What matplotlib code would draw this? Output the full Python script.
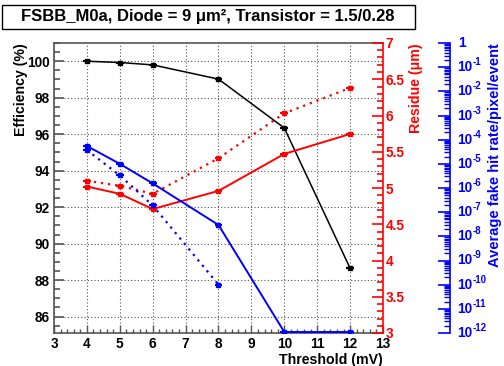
import numpy as np
import matplotlib
matplotlib.use("Agg")
import matplotlib.pyplot as plt
from matplotlib.ticker import MultipleLocator, LogLocator, FixedLocator, NullFormatter
from matplotlib.patches import Rectangle

plt.rcParams['font.family'] = ['Liberation Sans', 'DejaVu Sans']
plt.rcParams['font.weight'] = 'bold'

# data
threshold = [4, 5, 6, 8, 10, 12]
efficiency = [100.0, 99.93, 99.8, 99.02, 96.34, 88.65]
residue_solid = [5.02, 4.92, 4.71, 4.96, 5.47, 5.745]
residue_dotted = [5.10, 5.03, 4.92, 5.41, 6.03, 6.38]
fake_solid = [10**-4.26, 1e-5, 10**-5.81, 10**-7.53, 1.1e-12, 1.1e-12]
thr_fake_dotted = [4, 5, 6, 8]
fake_dotted = [10**-4.43, 10**-5.48, 10**-6.72, 1e-10]
fake_exps = list(range(-12, 1))

title = "FSBB_M0a, Diode = 9 \u03bcm\u00b2, Transistor = 1.5/0.28"

fig = plt.figure(figsize=(5.04, 3.66), dpi=100)
pos = [54/504, 1-333/366, (383-54)/504, (333-43)/366]
ax = fig.add_axes(pos)
ax2 = ax.twinx()
ax3 = ax.twinx()

fs = 9.8
fl = 10.2
xe = 0.12
# efficiency
ax.errorbar(threshold, efficiency, xerr=xe, color='black', lw=1.1, marker='s', ms=3.5,
            elinewidth=1.5, capsize=0, zorder=5)
ax.set_xlim(3, 13)
ax.set_ylim(85.1, 101)
ax.xaxis.set_major_locator(MultipleLocator(1))
ax.xaxis.set_minor_locator(MultipleLocator(0.2))
ax.yaxis.set_major_locator(MultipleLocator(2))
ax.yaxis.set_minor_locator(MultipleLocator(0.5))
ax.tick_params(axis='both', which='both', direction='in', labelsize=fs, color='#555555')
ax.tick_params(axis='y', which='major', length=7, width=1.2, pad=3)
ax.tick_params(axis='y', which='minor', length=4, width=1.2)
ax.tick_params(axis='x', which='major', length=6, width=1.0, pad=3)
ax.tick_params(axis='x', which='minor', length=3, width=1.0)
ax.grid(True, which='major', linestyle=(0, (1, 2)), color='#555555', lw=0.8)
for s in ['left', 'bottom', 'top']:
    ax.spines[s].set_color('#555555')
    ax.spines[s].set_linewidth(1.2)
ax.spines['right'].set_visible(False)
ax.set_xlabel("Threshold (mV)", fontsize=fl, fontweight='bold')
ax.xaxis.set_label_coords(1.0, -0.092)
ax.xaxis.label.set_horizontalalignment('right')
ax.xaxis.label.set_verticalalignment('center')
ax.set_ylabel("Efficiency (%)", fontsize=fl, fontweight='bold')
ax.yaxis.set_label_coords(-0.1, 1.0)
ax.yaxis.label.set_verticalalignment('center')
ax.yaxis.label.set_horizontalalignment('right')

# residue
ax2.errorbar(threshold, residue_solid, xerr=xe, color='red', lw=1.4, marker='s', ms=3.5,
             elinewidth=1.5, capsize=0, zorder=5)
ax2.errorbar(threshold, residue_dotted, xerr=xe, color='red', lw=1.6, ls=(0, (1, 2.2)),
             marker='s', ms=3.5, elinewidth=1.5, capsize=0, zorder=5)
ax2.set_ylim(3, 7)
res_ticks = np.arange(3, 7.01, 0.5)
ax2.set_yticks(res_ticks)
ax2.set_yticklabels([f"{v:g}" for v in res_ticks])
ax2.yaxis.set_minor_locator(MultipleLocator(0.1))
ax2.tick_params(axis='y', which='both', direction='in', colors='red', labelsize=fs, pad=2)
ax2.tick_params(axis='y', which='major', length=8, width=1.2)
ax2.tick_params(axis='y', which='minor', length=4, width=1.2)
ax2.spines['right'].set_color('red')
ax2.spines['right'].set_linewidth(1.2)
for s in ['left', 'top', 'bottom']:
    ax2.spines[s].set_visible(False)
ax2.set_ylabel("Residue (\u03bcm)", color='red', fontsize=fl, fontweight='bold')
ax2.yaxis.set_label_coords(1.1, 1.0)
ax2.yaxis.label.set_verticalalignment('center')
ax2.yaxis.label.set_horizontalalignment('right')

# fake hit rate
xspine = (450-54)/(383-54)
ax3.spines['right'].set_position(('axes', xspine))
ax3.plot(threshold, fake_solid, color='blue', lw=1.4, marker='s', ms=3.5, zorder=5)
ax3.errorbar(threshold, fake_solid, xerr=xe, color='blue', ls='none', elinewidth=1.5, capsize=0)
ax3.plot(thr_fake_dotted, fake_dotted, color='blue', lw=1.6, ls=(0, (1, 2.2)),
         marker='s', ms=3.5, zorder=5)
ax3.errorbar(thr_fake_dotted, fake_dotted, xerr=xe, color='blue', ls='none', elinewidth=1.5, capsize=0)
ax3.set_yscale('log')
ax3.set_ylim(1e-12, 1)
ax3.yaxis.set_major_locator(FixedLocator([10.0**e for e in fake_exps]))
ax3.yaxis.set_major_formatter(NullFormatter())
ax3.yaxis.set_minor_locator(LogLocator(base=10, subs=np.arange(2, 10), numticks=50))
ax3.yaxis.set_minor_formatter(NullFormatter())
ax3.tick_params(axis='y', which='both', direction='in', colors='blue')
ax3.tick_params(axis='y', which='major', length=9, width=1.2)
ax3.tick_params(axis='y', which='minor', length=4.5, width=1.0)
ax3.spines['right'].set_color('blue')
ax3.spines['right'].set_linewidth(1.2)
for s in ['left', 'top', 'bottom']:
    ax3.spines[s].set_visible(False)
tr = ax3.get_yaxis_transform()
for e in fake_exps:
    if e == 0:
        ax3.text(xspine + 8/329, 1.0, "1", transform=tr, color='blue', fontsize=fs,
                 ha='left', va='center', clip_on=False)
        continue
    ax3.text(xspine + 7/329, 10.0**e, "10", transform=tr, color='blue', fontsize=fs,
             ha='left', va='center', clip_on=False)
    ax3.annotate(str(e), xy=(xspine + 7/329, 10.0**e), xycoords=tr,
                 xytext=(11.0, 3.6), textcoords='offset points', color='blue',
                 fontsize=7, ha='left', va='center', annotation_clip=False)
ax3.set_ylabel("Average fake hit rate/pixel/event", color='blue', fontsize=10.5, fontweight='bold')
ax3.yaxis.set_label_coords(1.34, 1.0)
ax3.yaxis.label.set_verticalalignment('center')
ax3.yaxis.label.set_horizontalalignment('right')
ax3.set_xlim(3, 13)

# title box
fig.patches.append(Rectangle((2/504, 1-29/366), 413/504, 24/366, transform=fig.transFigure,
                             fill=True, facecolor='white', edgecolor='black', lw=1.0))
fig.text(208/504, 1-17/366, title, ha='center', va='center', fontsize=12, fontweight='bold')

fig.savefig("out.png", dpi=100)
